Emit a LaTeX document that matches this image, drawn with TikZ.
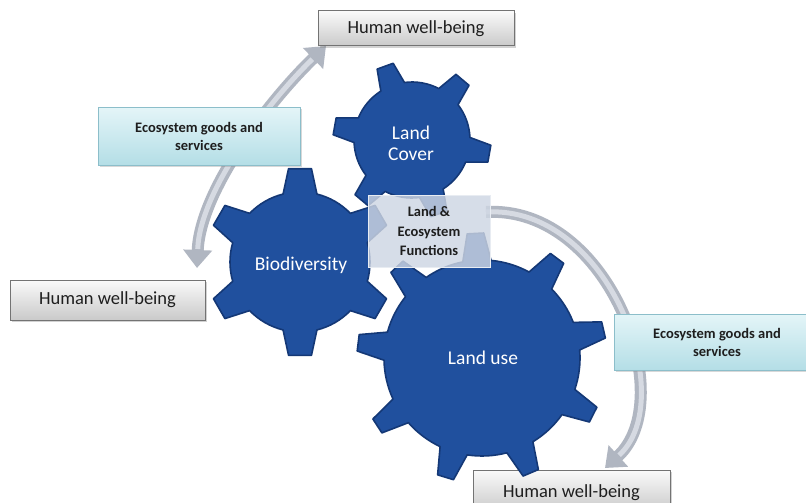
\documentclass[tikz,border=0pt]{standalone}
\usepackage{fontspec}
\setmainfont{Carlito}
\usetikzlibrary{arrows.meta,shadows,calc}
\definecolor{gearfill}{RGB}{32,80,158}
\definecolor{gearline}{RGB}{20,56,118}
\definecolor{arrowgray}{RGB}{176,182,193}
\definecolor{arrowhi}{RGB}{214,218,226}
\definecolor{ecotop}{RGB}{228,245,248}
\definecolor{ecobot}{RGB}{180,222,230}
\definecolor{ecoline}{RGB}{140,190,202}
\definecolor{hwbline}{RGB}{115,115,115}
\definecolor{lefill}{RGB}{206,214,227}
\definecolor{leline}{RGB}{232,236,242}
\definecolor{txtdark}{RGB}{30,30,30}
\newcommand\mygear[8]{% name, cx, cy, r, R, base half-angle, tip half-angle, angle list
  \begin{scope}[shift={(#2,#3)}]
    \filldraw[fill=gearfill,draw=gearline,line width=1.6pt,line join=round]
      ({\firstang-#6}:#4)
      \foreach \a in {#8} {
        -- ({\a-#7}:#5) -- ({\a+#7}:#5) -- ({\a+#6}:#4)
        arc[start angle={\a+#6}, end angle={\a+\gearstep-#6}, radius=#4]
      } -- cycle;
    \coordinate (#1) at (0,0);
  \end{scope}}
\begin{document}
\begin{tikzpicture}[x=1pt,y=-1pt,
  hwb/.style={draw=hwbline,line width=1pt,top color=white!96!gray,bottom color=gray!42,
    font=\fontsize{18.5}{20}\selectfont,text=txtdark,
    drop shadow={shadow xshift=2pt,shadow yshift=-2pt,opacity=.35}},
  eco/.style={draw=ecoline,line width=1pt,top color=ecotop,bottom color=ecobot,
    font=\bfseries\fontsize{14.5}{18}\selectfont,text=txtdark,align=center,
    drop shadow={shadow xshift=2pt,shadow yshift=-2pt,opacity=.3}},
  gtext/.style={text=white,font=\fontsize{19.5}{21}\selectfont,align=center},
  band/.style={line width=12pt,color=arrowgray},
  bandhi/.style={line width=5pt,color=arrowhi}
]
\useasboundingbox (0,0) rectangle (806,503);
\fill[white] (0,0) rectangle (806,503);

% named end points of the curved arrows
\coordinate (aLb) at (197,268);
\coordinate (aLt) at (326,46);
\coordinate (aRs) at (486,212);
\coordinate (aRe) at (605,468);

% curved arrows
\draw[band,{Triangle[width=28pt,length=18pt]}-{Triangle[width=28pt,length=18pt]}]
  (aLb) .. controls (200,190) and (270,100) .. (aLt);
\draw[bandhi,shorten <=19pt,shorten >=19pt]
  (aLb) .. controls (200,190) and (270,100) .. (aLt);
\draw[band,-{Triangle[width=28pt,length=18pt]}]
  (aRs) .. controls (610,205) and (680,400) .. (aRe);
\draw[bandhi,shorten >=19pt]
  (aRs) .. controls (610,205) and (680,400) .. (aRe);

% boxes
\node[hwb,minimum width=196pt,minimum height=35pt] (hwbT) at (416,28.5) {Human well-being};
\node[hwb,minimum width=195pt,minimum height=40pt] (hwbL) at (107.5,300) {Human well-being};
\node[hwb,minimum width=197pt,minimum height=42pt,text depth=0pt] (hwbB) at (571.5,491) {Human well-being};
\node[eco,minimum width=202pt,minimum height=58pt] (ecoL) at (199,136) {Ecosystem goods and\\services};
\node[eco,minimum width=206pt,minimum height=56pt] (ecoR) at (717,342) {Ecosystem goods and\\services};

% gears
\def\gearstep{60}\def\firstang{30}
\mygear{gBio}{300}{262}{70}{94}{14}{7}{30,90,150,210,270,330}
\def\gearstep{60}\def\firstang{10}
\mygear{gCov}{412}{140}{58}{79}{12.5}{6.2}{10,70,130,190,250,310}
\def\gearstep{40}\def\firstang{27}
\mygear{gUse}{482}{358}{98}{125}{8.3}{3.8}{27,67,107,147,187,227,267,307,347}

\node[gtext] (tBio) at (301,265) {Biodiversity};
\node[gtext] (tCov) at (411,143) {Land\\Cover};
\node[gtext] (tUse) at (483,358) {Land use};

% transparent box
\node[draw=leline,line width=1pt,fill=lefill,fill opacity=.82,text opacity=1,
  minimum width=122pt,minimum height=72pt,align=center,text=txtdark,
  font=\bfseries\fontsize{14.5}{19.5}\selectfont] (le) at (429,231) {Land \&\\Ecosystem\\Functions};
\end{tikzpicture}
\end{document}
